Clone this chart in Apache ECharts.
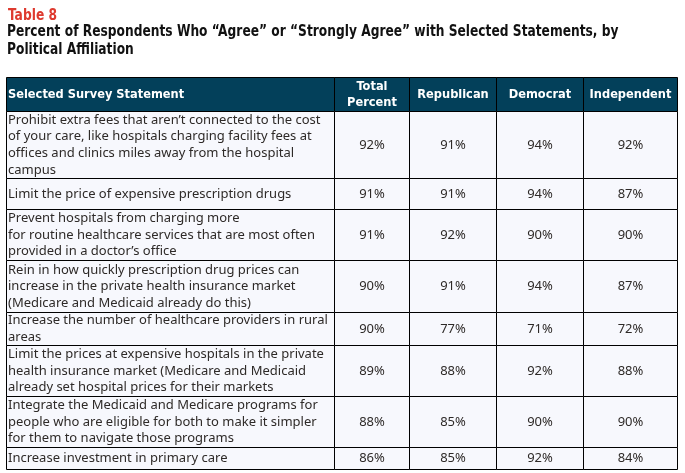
<!DOCTYPE html>
<html>
<head>
<meta charset="utf-8">
<script src="https://cdn.jsdelivr.net/npm/echarts@6/dist/echarts.min.js"></script>
<style>
  html, body { margin: 0; padding: 0; background: #fff; }
  #main { width: 685px; height: 473px; }
</style>
</head>
<body>
<div id="main"></div>
<script>
// table content
var tableLabel = 'Table 8';
var titleLines = [
    'Percent of Respondents Who \u201cAgree\u201d or \u201cStrongly Agree\u201d with Selected Statements, by',
    'Political Affiliation'
];
var columns = ['Selected Survey Statement', 'Total\nPercent', 'Republican', 'Democrat', 'Independent'];
var statements = [
    "Prohibit extra fees that aren\u2019t connected to the cost\nof your care, like hospitals charging facility fees at\noffices and clinics miles away from the hospital\ncampus",
    "Limit the price of expensive prescription drugs",
    "Prevent hospitals from charging more\nfor routine healthcare services that are most often\nprovided in a doctor\u2019s office",
    "Rein in how quickly prescription drug prices can\nincrease in the private health insurance market\n(Medicare and Medicaid already do this)",
    "Increase the number of healthcare providers in rural\nareas",
    "Limit the prices at expensive hospitals in the private\nhealth insurance market (Medicare and Medicaid\nalready set hospital prices for their markets",
    "Integrate the Medicaid and Medicare programs for\npeople who are eligible for both to make it simpler\nfor them to navigate those programs",
    "Increase investment in primary care"
];
var totalPct = [92, 91, 91, 90, 90, 89, 88, 86];
var republican = [91, 91, 92, 91, 77, 88, 85, 85];
var democrat = [94, 94, 90, 94, 71, 92, 90, 92];
var independent = [92, 87, 90, 87, 72, 88, 90, 84];

// layout (table units = px inside the grid)
var colEdges = [0, 328, 403, 490, 577, 671];
var rowEdges = [0, 34, 101, 132, 183, 235, 268, 319, 370, 392];

var condensed = '"DejaVu Sans Condensed", "DejaVu Sans", sans-serif';
var bodyFont = '"Noto Sans", sans-serif';

var valueCols = [totalPct, republican, democrat, independent];
var cells = [];
for (var c = 0; c < columns.length; c++) {
    cells.push([c, 0]);
}
for (var r = 0; r < statements.length; r++) {
    for (var c2 = 0; c2 < columns.length; c2++) {
        cells.push([c2, r + 1]);
    }
}

function cellText(c, r) {
    if (r === 0) return columns[c];
    if (c === 0) return statements[r - 1];
    return valueCols[c - 1][r - 1] + '%';
}

var chart = echarts.init(document.getElementById('main'));
var option = {
    animation: false,
    graphic: [
        {
            type: 'text', x: 8, y: 15.5, scaleX: 0.88,
            style: { text: tableLabel, fill: '#de3a2f', fontFamily: condensed, fontWeight: 'bold', fontSize: 15.5, verticalAlign: 'middle' }
        },
        {
            type: 'text', x: 7, y: 32.5, scaleX: 0.89,
            style: { text: titleLines[0], fill: '#111', fontFamily: condensed, fontWeight: 'bold', fontSize: 15.3, verticalAlign: 'middle' }
        },
        {
            type: 'text', x: 7, y: 50.5, scaleX: 0.89,
            style: { text: titleLines[1], fill: '#111', fontFamily: condensed, fontWeight: 'bold', fontSize: 15.3, verticalAlign: 'middle' }
        }
    ],
    grid: { left: 6, top: 77, width: 671, height: 392 },
    xAxis: { type: 'value', min: 0, max: 671, show: false },
    yAxis: { type: 'value', min: 0, max: 392, inverse: true, show: false },
    series: [{
        type: 'custom',
        data: cells,
        renderItem: function (params, api) {
            var c = api.value(0), r = api.value(1);
            var p0 = api.coord([colEdges[c], rowEdges[r]]);
            var p1 = api.coord([colEdges[c + 1], rowEdges[r + 1]]);
            var x = Math.round(p0[0]) + 0.5, y = Math.round(p0[1]) + 0.5;
            var w = Math.round(p1[0]) - Math.round(p0[0]);
            var h = Math.round(p1[1]) - Math.round(p0[1]);
            var header = r === 0;
            var left = c === 0;
            return {
                type: 'group',
                children: [
                    {
                        type: 'rect',
                        shape: { x: x, y: y, width: w, height: h },
                        style: { fill: header ? '#03405a' : '#f7f8fd', stroke: '#000', lineWidth: 1 }
                    },
                    {
                        type: 'text',
                        x: left ? x + 1.5 : x + w / 2,
                        y: y + h / 2,
                        style: {
                            text: cellText(c, r),
                            fill: header ? '#fff' : '#2e2a28',
                            fontFamily: header ? condensed : bodyFont,
                            fontWeight: header ? 'bold' : 'normal',
                            fontSize: header ? 12.7 : 13,
                            lineHeight: header ? 16 : 16.7,
                            align: left ? 'left' : 'center',
                            verticalAlign: 'middle'
                        }
                    }
                ]
            };
        }
    }]
};
chart.setOption(option);
window.addEventListener('resize', function () {
    chart.resize();
});
</script>
</body>
</html>
